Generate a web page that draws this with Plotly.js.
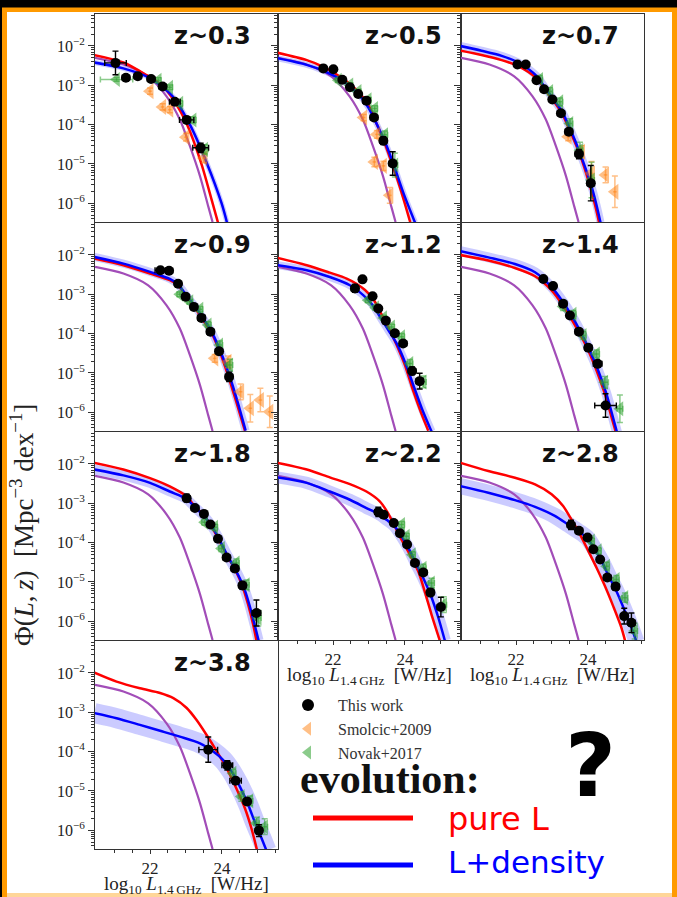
<!DOCTYPE html>
<html><head><meta charset="utf-8">
<script src="https://cdn.plot.ly/plotly-3.0.1.min.js"></script>
<style>html,body{margin:0;padding:0;background:#000;}#chart{width:677px;height:897px;}</style>
</head><body><div id="chart"></div>
<script>
// ---------------- data (log10 units) ----------------
const zLabels = ['z~0.3','z~0.5','z~0.7','z~0.9','z~1.2','z~1.4','z~1.8','z~2.2','z~2.8','z~3.8'];
const localX = [20.47,21.26,21.95,22.46,22.83,23.11,23.39,23.62,23.74];
const localY = [-2.30,-2.47,-2.77,-3.28,-3.87,-4.55,-5.31,-6.08,-6.48];

// z~0.3
const pleX03=[20.45,21.26,21.90,22.32,22.69,23.03,23.43,23.74,23.89];
const pleY03=[-2.23,-2.42,-2.74,-2.99,-3.42,-4.00,-5.00,-6.00,-6.49];
const ldeX03=[20.45,21.26,22.0,22.64,23.11,23.59,23.99,24.14];
const ldeY03=[-2.42,-2.57,-2.82,-3.29,-4.00,-5.00,-6.00,-6.49];
const workX03=[21.04,21.33,21.66,22.03,22.35,22.69,23.02,23.41];
const workY03=[-2.43,-2.81,-2.77,-2.84,-3.03,-3.42,-3.88,-4.59];
const workEy03=[0.3,0.05,0.05,0.05,0.05,0.06,0.07,0.12];
const workEx03=[0.3,0.1,0.1,0.1,0.1,0.15,0.2,0.22];
const smolX03=[22.0,22.35,22.55,23.0,23.5];
const smolY03=[-3.15,-3.55,-3.62,-4.32,-4.85];
const smolEy03=[0.08,0.08,0.08,0.1,0.12];
const novX03=[21.07,22.23,22.55,22.83,23.20,23.52];
const novY03=[-2.85,-2.87,-3.05,-3.46,-3.88,-4.63];
const novEy03=[0.05,0.06,0.06,0.07,0.08,0.12];
const novEx03=[0.45,0.08,0.08,0.08,0.08,0.1];

// z~0.5
const pleX05=[20.45,21.27,21.73,22.26,22.70,22.98,23.21,23.44,23.67,23.90,24.15];
const pleY05=[-2.17,-2.36,-2.53,-2.82,-3.16,-3.50,-3.97,-4.48,-5.07,-5.71,-6.49];
const ldeX05=[20.45,21.27,21.73,22.26,22.70,22.98,23.23,23.49,23.72,23.97,24.28];
const ldeY05=[-2.31,-2.48,-2.63,-2.88,-3.22,-3.56,-4.01,-4.54,-5.11,-5.77,-6.49];
const workX05=[21.73,22.01,22.26,22.47,22.70,22.93,23.14,23.40,23.66];
const workY05=[-2.57,-2.59,-2.86,-3.05,-3.22,-3.39,-3.82,-4.41,-4.99];
const workEy05=[0.05,0.05,0.05,0.05,0.05,0.06,0.07,0.1,0.3];
const workEx05=[0.08,0.08,0.08,0.08,0.08,0.1,0.1,0.1,0.1];
const smolX05=[22.85,23.22,23.15,23.40,23.58];
const smolY05=[-3.82,-4.25,-4.95,-5.05,-5.80];
const smolEy05=[0.08,0.1,0.12,0.12,0.2];
const novX05=[22.15,22.47,22.70,22.98,23.16,23.44,23.72];
const novY05=[-2.87,-2.99,-3.16,-3.37,-3.59,-4.26,-5.03];
const novEy05=[0.05,0.05,0.06,0.06,0.07,0.1,0.3];
const novEx05=[0.08,0.08,0.08,0.08,0.08,0.08,0.08];

// z~0.7
const pleX07=[20.45,21.04,21.60,22.06,22.57,22.80,23.27,23.50,23.78,24.05,24.21,24.31];
const pleY07=[-2.12,-2.23,-2.36,-2.51,-2.82,-3.10,-3.70,-4.16,-4.77,-5.54,-6.09,-6.49];
const ldeX07=[20.45,21.04,21.60,22.06,22.57,22.82,23.28,23.52,23.79,24.08,24.24,24.35];
const ldeY07=[-2.00,-2.12,-2.25,-2.42,-2.76,-3.08,-3.67,-4.14,-4.75,-5.51,-6.05,-6.49];
const workX07=[22.04,22.27,22.57,22.78,23.01,23.25,23.47,23.75,24.08];
const workY07=[-2.47,-2.47,-2.87,-3.10,-3.36,-3.71,-4.18,-4.75,-5.49];
const workEy07=[0.05,0.05,0.05,0.06,0.06,0.07,0.08,0.12,0.45];
const workEx07=[0.08,0.08,0.08,0.08,0.08,0.1,0.1,0.1,0.1];
const smolX07=[23.45,23.82,24.10,24.49,24.75];
const smolY07=[-4.31,-4.69,-5.24,-5.28,-5.71];
const smolEy07=[0.1,0.15,0.3,0.2,0.4];
const novX07=[22.66,22.94,23.22,23.50,23.78,24.10];
const novY07=[-2.85,-3.16,-3.42,-3.97,-4.65,-5.41];
const novEy07=[0.1,0.1,0.1,0.12,0.2,0.45];
const novEx07=[0.08,0.08,0.08,0.08,0.08,0.08];

// z~0.9
const pleX09=[20.45,21.26,22.0,22.55,22.78,23.02,23.25,23.48,23.71,23.94,24.17,24.40,24.64];
const pleY09=[-2.09,-2.26,-2.47,-2.64,-2.77,-3.06,-3.34,-3.66,-3.98,-4.46,-5.06,-5.74,-6.47];
const ldeX09=[20.45,21.26,22.0,22.55,22.78,23.03,23.27,23.50,23.73,23.96,24.20,24.43,24.66];
const ldeY09=[-2.05,-2.22,-2.43,-2.61,-2.75,-3.05,-3.33,-3.64,-3.98,-4.45,-5.04,-5.72,-6.47];
const workX09=[22.29,22.53,22.78,22.99,23.22,23.43,23.68,23.92,24.20];
const workY09=[-2.39,-2.40,-2.73,-3.06,-3.32,-3.60,-3.95,-4.45,-5.10];
const workEy09=[0.05,0.05,0.05,0.05,0.06,0.06,0.07,0.08,0.12];
const workEx09=[0.15,0.1,0.08,0.08,0.08,0.1,0.1,0.1,0.1];
const smolX09=[23.80,24.17,24.52,24.79,25.07,25.33];
const smolY09=[-4.63,-4.72,-5.48,-5.90,-5.69,-5.99];
const smolEy09=[0.1,0.15,0.2,0.35,0.3,0.4];
const novX09=[22.83,23.11,23.39,23.62,23.94,24.22];
const novY09=[-3.00,-3.19,-3.38,-3.78,-4.29,-4.80];
const novEy09=[0.06,0.06,0.07,0.08,0.1,0.15];
const novEx09=[0.08,0.08,0.08,0.08,0.08,0.08];

// z~1.2
const pleX12=[20.45,21.27,21.91,22.38,22.65,22.89,23.12,23.32,23.55,23.77,24.0,24.21,24.44,24.65];
const pleY12=[-2.07,-2.26,-2.45,-2.60,-2.73,-2.89,-3.12,-3.46,-3.86,-4.29,-4.80,-5.40,-5.99,-6.47];
const ldeX12=[20.45,21.27,21.91,22.47,22.84,23.10,23.30,23.53,23.77,24.0,24.23,24.49,24.74];
const ldeY12=[-2.26,-2.39,-2.56,-2.77,-3.02,-3.27,-3.56,-3.90,-4.25,-4.72,-5.30,-5.95,-6.49];
const workX12=[22.61,22.82,23.10,23.26,23.47,23.72,23.95,24.20,24.41];
const workY12=[-2.85,-2.62,-3.05,-3.36,-3.67,-3.99,-4.25,-4.95,-5.21];
const workEy12=[0.1,0.05,0.05,0.05,0.05,0.06,0.07,0.1,0.2];
const workEx12=[0.1,0.08,0.08,0.08,0.08,0.1,0.1,0.1,0.1];
const novX12=[22.98,23.19,23.41,23.63,23.91,24.14,24.51];
const novY12=[-3.15,-3.34,-3.60,-3.83,-4.08,-4.76,-5.23];
const novEy12=[0.06,0.06,0.07,0.07,0.08,0.1,0.15];
const novEx12=[0.08,0.08,0.08,0.08,0.08,0.08,0.08];

// z~1.4
const pleX14=[20.45,21.23,21.97,22.53,22.99,23.31,23.54,23.78,24.01,24.24,24.47,24.67,24.79];
const pleY14=[-2.00,-2.14,-2.33,-2.54,-2.90,-3.29,-3.63,-4.01,-4.43,-4.94,-5.53,-6.17,-6.55];
const ldeX14=[20.45,21.23,21.97,22.53,22.99,23.31,23.56,23.80,24.03,24.27,24.50,24.70,24.82];
const ldeY14=[-1.90,-2.06,-2.23,-2.44,-2.82,-3.20,-3.56,-3.96,-4.39,-4.90,-5.49,-6.14,-6.55];
const workX14=[22.76,23.03,23.31,23.50,23.75,24.01,24.27,24.49];
const workY14=[-2.61,-2.79,-3.24,-3.54,-3.95,-4.36,-4.77,-5.83];
const workEy14=[0.05,0.05,0.06,0.06,0.06,0.08,0.08,0.3];
const workEx14=[0.08,0.08,0.1,0.08,0.1,0.1,0.12,0.3];
const novX14=[23.31,23.59,23.87,24.24,24.47,24.89];
const novY14=[-3.31,-3.51,-4.05,-4.52,-5.24,-5.91];
const novEy14=[0.1,0.1,0.1,0.1,0.15,0.35];
const novEx14=[0.08,0.08,0.08,0.08,0.1,0.08];

// z~1.8
const pleX18=[20.45,21.26,22.0,22.55,23.01,23.25,23.50,23.71,23.92,24.14,24.38,24.57,24.73,24.87,24.96];
const pleY18=[-1.97,-2.14,-2.36,-2.57,-2.82,-3.08,-3.31,-3.59,-3.93,-4.32,-4.71,-5.11,-5.58,-6.09,-6.49];
const ldeX18=[20.45,21.26,22.0,22.55,23.0,23.25,23.50,23.73,23.94,24.16,24.40,24.61,24.77,24.91,25.02];
const ldeY18=[-2.14,-2.29,-2.48,-2.70,-2.88,-3.10,-3.32,-3.60,-3.94,-4.34,-4.73,-5.14,-5.60,-6.09,-6.49];
const workX18=[23.02,23.25,23.50,23.68,23.89,24.13,24.36,24.57,24.96];
const workY18=[-2.87,-3.12,-3.27,-3.54,-3.90,-4.38,-4.66,-5.09,-5.79];
const workEy18=[0.1,0.06,0.06,0.06,0.06,0.07,0.08,0.1,0.33];
const workEx18=[0.1,0.1,0.08,0.08,0.08,0.1,0.1,0.1,0.12];
const novX18=[23.52,23.80,23.99,24.40,24.68,25.01];
const novY18=[-3.48,-3.61,-4.15,-4.52,-5.07,-5.92];
const novEy18=[0.08,0.08,0.08,0.1,0.12,0.2];
const novEx18=[0.08,0.08,0.08,0.08,0.08,0.08];

// z~2.2
const pleX22=[20.45,21.27,21.91,22.47,22.93,23.30,23.53,23.72,23.91,24.14,24.37,24.55,24.74,24.97];
const pleY22=[-1.97,-2.14,-2.34,-2.51,-2.70,-2.95,-3.25,-3.59,-3.93,-4.31,-4.73,-5.24,-5.83,-6.49];
const ldeX22=[20.45,21.27,21.91,22.47,22.93,23.26,23.49,23.69,23.88,24.09,24.30,24.51,24.71,24.92,25.11];
const ldeY22=[-2.34,-2.48,-2.70,-2.91,-3.12,-3.27,-3.42,-3.56,-3.80,-4.12,-4.52,-4.90,-5.32,-5.88,-6.49];
const workX22=[23.26,23.41,23.69,23.86,24.06,24.28,24.51,24.71,25.00];
const workY22=[-3.22,-3.29,-3.50,-3.76,-4.05,-4.52,-4.76,-5.27,-5.64];
const workEy22=[0.12,0.08,0.05,0.05,0.05,0.06,0.07,0.1,0.25];
const workEx22=[0.1,0.1,0.08,0.08,0.08,0.1,0.1,0.1,0.1];
const novX22=[23.91,24.04,24.21,24.51,24.74,25.08];
const novY22=[-3.54,-3.84,-4.31,-4.65,-5.03,-5.58];
const novEy22=[0.08,0.08,0.08,0.1,0.12,0.2];
const novEx22=[0.08,0.08,0.08,0.08,0.08,0.08];

// z~2.8
const pleX28=[20.45,21.23,21.97,22.53,22.99,23.31,23.54,23.78,24.01,24.24,24.47,24.70,24.93,25.04];
const pleY28=[-1.97,-2.18,-2.35,-2.52,-2.77,-3.07,-3.41,-3.79,-4.21,-4.64,-5.10,-5.61,-6.16,-6.52];
const ldeX28=[20.45,21.23,21.97,22.53,23.08,23.45,23.73,23.99,24.19,24.38,24.58,24.79,25.01,25.21,25.35];
const ldeY28=[-2.56,-2.73,-2.92,-3.09,-3.32,-3.54,-3.71,-3.89,-4.17,-4.47,-4.85,-5.23,-5.70,-6.16,-6.52];
const workX28=[23.53,23.75,23.99,24.15,24.34,24.54,24.77,25.01,25.21];
const workY28=[-3.55,-3.70,-3.87,-4.17,-4.43,-4.89,-5.12,-5.87,-6.04];
const workEy28=[0.12,0.08,0.05,0.05,0.05,0.06,0.07,0.2,0.25];
const workEx28=[0.1,0.1,0.08,0.08,0.08,0.1,0.1,0.1,0.1];
const novX28=[24.10,24.29,24.52,24.79,25.03,25.30];
const novY28=[-3.96,-4.21,-4.60,-4.94,-5.40,-6.25];
const novEy28=[0.08,0.08,0.1,0.1,0.12,0.2];
const novEx28=[0.08,0.08,0.08,0.08,0.08,0.08];

// z~3.8
const pleX38=[20.45,21.07,21.72,22.28,22.65,23.02,23.29,23.57,23.85,24.13,24.40,24.64,24.82,24.98];
const pleY38=[-1.99,-2.22,-2.39,-2.51,-2.64,-2.89,-3.19,-3.57,-3.98,-4.42,-4.93,-5.44,-5.95,-6.52];
const ldeX38=[20.45,21.07,21.72,22.28,22.83,23.39,23.76,24.03,24.27,24.50,24.73,24.91,25.10,25.24];
const ldeY38=[-3.02,-3.15,-3.32,-3.47,-3.62,-3.79,-4.00,-4.21,-4.51,-4.89,-5.35,-5.78,-6.20,-6.52];
const workX38=[23.62,24.15,24.38,24.70,25.03];
const workY38=[-3.95,-4.35,-4.74,-5.27,-6.01];
const workEy38=[0.32,0.12,0.08,0.08,0.15];
const workEx38=[0.26,0.15,0.16,0.1,0.1];
const novX38=[24.31,24.54,24.78,24.96,25.19];
const novY38=[-4.55,-5.14,-5.25,-5.82,-5.91];
const novEy38=[0.1,0.12,0.12,0.15,0.2];
const novEx38=[0.08,0.08,0.08,0.08,0.08];

const xTickVals=[22,24];
const xTickText=['22','24'];
const yTickVals=[-6,-5,-4,-3,-2];
const yTickText=['10<sup>−6</sup>','10<sup>−5</sup>','10<sup>−4</sup>','10<sup>−3</sup>','10<sup>−2</sup>'];

// ---------------- build ----------------
const panels=[
 {ple:[pleX03,pleY03],lde:[ldeX03,ldeY03],work:[workX03,workY03,workEy03,workEx03],smol:[smolX03,smolY03,smolEy03],nov:[novX03,novY03,novEy03,novEx03]},
 {ple:[pleX05,pleY05],lde:[ldeX05,ldeY05],work:[workX05,workY05,workEy05,workEx05],smol:[smolX05,smolY05,smolEy05],nov:[novX05,novY05,novEy05,novEx05]},
 {ple:[pleX07,pleY07],lde:[ldeX07,ldeY07],work:[workX07,workY07,workEy07,workEx07],smol:[smolX07,smolY07,smolEy07],nov:[novX07,novY07,novEy07,novEx07]},
 {ple:[pleX09,pleY09],lde:[ldeX09,ldeY09],work:[workX09,workY09,workEy09,workEx09],smol:[smolX09,smolY09,smolEy09],nov:[novX09,novY09,novEy09,novEx09]},
 {ple:[pleX12,pleY12],lde:[ldeX12,ldeY12],work:[workX12,workY12,workEy12,workEx12],smol:null,nov:[novX12,novY12,novEy12,novEx12]},
 {ple:[pleX14,pleY14],lde:[ldeX14,ldeY14],work:[workX14,workY14,workEy14,workEx14],smol:null,nov:[novX14,novY14,novEy14,novEx14]},
 {ple:[pleX18,pleY18],lde:[ldeX18,ldeY18],work:[workX18,workY18,workEy18,workEx18],smol:null,nov:[novX18,novY18,novEy18,novEx18]},
 {ple:[pleX22,pleY22],lde:[ldeX22,ldeY22],work:[workX22,workY22,workEy22,workEx22],smol:null,nov:[novX22,novY22,novEy22,novEx22]},
 {ple:[pleX28,pleY28],lde:[ldeX28,ldeY28],work:[workX28,workY28,workEy28,workEx28],smol:null,nov:[novX28,novY28,novEy28,novEx28]},
 {ple:[pleX38,pleY38],lde:[ldeX38,ldeY38],work:[workX38,workY38,workEy38,workEx38],smol:null,nov:[novX38,novY38,novEy38,novEx38]}
];

const W=677,H=897;
const colL=[95,278,461], colW=183, rowT=[14,223,432,641], rowH=208;
const pos=[[0,0],[0,1],[0,2],[1,0],[1,1],[1,2],[2,0],[2,1],[2,2],[3,0]];
const bottomPanels=[7,8,9];
const bandW=[5,6,8,8,8,10,10,12,16,20];
const labelRight=[253,444,621];
const fx=p=>p/W, fy=p=>1-p/H;
const yMinor=[]; for(let d=-7;d<=-2;d++) for(let k=2;k<=9;k++) yMinor.push(d+Math.log10(k));
const xMinor=[21,21.5,22.5,23,23.5,24.5,25,25.5];
const ORANGE='rgba(255,127,14,0.5)', GREEN='rgba(44,160,44,0.55)';
const serif='Liberation Serif, DejaVu Serif, serif';

const traces=[];
const layout={width:W,height:H,margin:{l:0,r:0,t:0,b:0},paper_bgcolor:'#000',plot_bgcolor:'rgba(0,0,0,0)',
  showlegend:true,
  legend:{x:fx(278),y:fy(688),xanchor:'left',yanchor:'top',bgcolor:'rgba(0,0,0,0)',font:{family:serif,size:16,color:'#333'},traceorder:'normal',itemsizing:'constant',itemwidth:50},
  shapes:[],annotations:[]};

panels.forEach((p,i)=>{
  const s=i===0?'':String(i+1);
  const xa='x'+s, ya='y'+s;
  const [r,c]=pos[i];
  const bottom=bottomPanels.includes(i);
  const sp={shape:'spline',smoothing:0.8};
  traces.push({x:p.lde[0],y:p.lde[1],xaxis:xa,yaxis:ya,mode:'lines',line:Object.assign({color:'rgba(70,70,255,0.28)',width:bandW[i]},sp),showlegend:false,hoverinfo:'skip'});
  traces.push({x:localX,y:localY,xaxis:xa,yaxis:ya,mode:'lines',line:Object.assign({color:'#a24db8',width:2.2},sp),showlegend:false,hoverinfo:'skip'});
  traces.push({x:p.ple[0],y:p.ple[1],xaxis:xa,yaxis:ya,mode:'lines',line:Object.assign({color:'#ff0000',width:2.5},sp),showlegend:false,hoverinfo:'skip'});
  traces.push({x:p.lde[0],y:p.lde[1],xaxis:xa,yaxis:ya,mode:'lines',line:Object.assign({color:'#0000ff',width:2.5},sp),showlegend:false,hoverinfo:'skip'});
  if(p.smol){
    traces.push({x:p.smol[0],y:p.smol[1],xaxis:xa,yaxis:ya,mode:'markers',name:'Smolcic+2009',legendrank:2,showlegend:i===0,
      marker:{symbol:'triangle-left',size:14,color:ORANGE,line:{width:0}},
      error_y:{type:'data',array:p.smol[2],color:ORANGE,thickness:1.5,width:3},
      error_x:{type:'constant',value:0.05,color:ORANGE,thickness:1.5,width:0}});
  }
  traces.push({x:p.nov[0],y:p.nov[1],xaxis:xa,yaxis:ya,mode:'markers',name:'Novak+2017',legendrank:3,showlegend:i===0,
    marker:{symbol:'triangle-left',size:13,color:GREEN,line:{width:0}},
    error_y:{type:'data',array:p.nov[2],color:GREEN,thickness:1.5,width:3},
    error_x:{type:'data',array:p.nov[3],color:GREEN,thickness:1.5,width:3}});
  traces.push({x:p.work[0],y:p.work[1],xaxis:xa,yaxis:ya,mode:'markers',name:'This work',legendrank:1,showlegend:i===0,
    marker:{symbol:'circle',size:10,color:'#000'},
    error_y:{type:'data',array:p.work[2],color:'#000',thickness:1.4,width:3},
    error_x:{type:'data',array:p.work[3],color:'#000',thickness:1.4,width:3}});

  layout['xaxis'+s]={domain:[fx(colL[c]),fx(colL[c]+colW)],range:[20.47,25.56],anchor:ya,
    showline:true,mirror:true,linecolor:'#333',linewidth:1,showgrid:false,zeroline:false,fixedrange:true,
    tickmode:'array',tickvals:xTickVals,ticktext:xTickText,showticklabels:bottom,
    ticks:bottom?'outside':'',ticklen:4,tickcolor:'#333',
    minor:bottom?{tickmode:'array',tickvals:xMinor,ticks:'outside',ticklen:3,tickcolor:'#333',showgrid:false}:{ticks:''},
    tickfont:{family:serif,size:17,color:'#222'}};
  layout['yaxis'+s]={domain:[fy(rowT[r]+rowH),fy(rowT[r])],range:[-6.478,-1.186],anchor:xa,
    showline:true,mirror:true,linecolor:'#333',linewidth:1,showgrid:false,zeroline:false,fixedrange:true,
    tickmode:'array',tickvals:yTickVals,ticktext:yTickText,showticklabels:c===0,
    ticks:'outside',ticklen:6,tickcolor:'#333',
    minor:{tickmode:'array',tickvals:yMinor,ticks:'outside',ticklen:3,tickcolor:'#333',showgrid:false},
    tickfont:{family:serif,size:16,color:'#222'}};

  layout.annotations.push({xref:'paper',yref:'paper',x:fx(labelRight[c]),y:fy(rowT[r]+22),xanchor:'right',yanchor:'middle',
    text:'<b>'+zLabels[i]+'</b>',showarrow:false,font:{family:'DejaVu Sans',size:24,color:'#111'}});
  if(bottom){
    layout.annotations.push({xref:'paper',yref:'paper',x:fx(colL[c]+colW/2),y:fy(rowT[r]+rowH+36),xanchor:'center',yanchor:'middle',
      text:'log<sub>10</sub>\u00a0<i>L</i><sub>1.4\u2009GHz</sub>\u00a0\u00a0[W/Hz]',showarrow:false,font:{family:serif,size:19,color:'#222'}});
  }
});

// frame / background
layout.shapes.push({type:'rect',xref:'paper',yref:'paper',x0:fx(2),x1:fx(677),y0:fy(897),y1:fy(7.5),fillcolor:'#ff9a00',line:{width:0},layer:'below'});
layout.shapes.push({type:'rect',xref:'paper',yref:'paper',x0:fx(7),x1:fx(672),y0:fy(893),y1:fy(12),fillcolor:'#ffffff',line:{width:0},layer:'below'});
layout.shapes.push({type:'rect',xref:'paper',yref:'paper',x0:fx(7),x1:fx(672),y0:fy(897),y1:fy(893),fillcolor:'#ffd699',line:{width:0},layer:'below'});
// evolution key lines
layout.shapes.push({type:'line',xref:'paper',yref:'paper',x0:fx(313),x1:fx(413),y0:fy(818),y1:fy(818),line:{color:'#ff0000',width:5}});
layout.shapes.push({type:'line',xref:'paper',yref:'paper',x0:fx(313),x1:fx(413),y0:fy(865),y1:fy(865),line:{color:'#0000ff',width:5}});

layout.annotations.push({xref:'paper',yref:'paper',x:fx(22),y:fy(525),xanchor:'center',yanchor:'middle',textangle:-90,
  text:'Φ(<i>L</i>,\u2009<i>z</i>)\u00a0\u00a0[Mpc<sup>−3</sup>\u00a0dex<sup>−1</sup>]',showarrow:false,font:{family:serif,size:27,color:'#222'}});
layout.annotations.push({xref:'paper',yref:'paper',x:fx(298),y:fy(779),xanchor:'left',yanchor:'middle',
  text:'<b>evolution:</b>',showarrow:false,font:{family:serif,size:42,color:'#111'}});
layout.annotations.push({xref:'paper',yref:'paper',x:fx(590),y:fy(765),xanchor:'center',yanchor:'middle',
  text:'<b>?</b>',showarrow:false,font:{family:'DejaVu Sans',size:88,color:'#000'}});
layout.annotations.push({xref:'paper',yref:'paper',x:fx(446),y:fy(819),xanchor:'left',yanchor:'middle',
  text:'pure L',showarrow:false,font:{family:'DejaVu Sans',size:32,color:'#ff0000'}});
layout.annotations.push({xref:'paper',yref:'paper',x:fx(446),y:fy(862),xanchor:'left',yanchor:'middle',
  text:'L+density',showarrow:false,font:{family:'DejaVu Sans',size:31,color:'#0000ff'}});

Plotly.newPlot('chart',traces,layout,{staticPlot:true,displayModeBar:false});
</script></body></html>
